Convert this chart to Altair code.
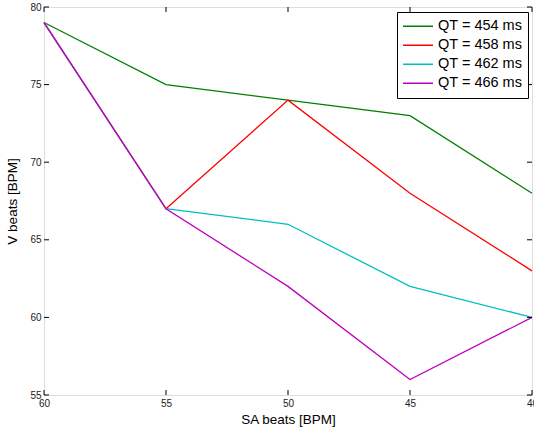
import altair as alt
import pandas as pd

sa_beats = [60, 55, 50, 45, 40]
series_names = ["QT = 454 ms", "QT = 458 ms", "QT = 462 ms", "QT = 466 ms"]
v_454 = [79, 75, 74, 73, 68]
v_458 = [79, 67, 74, 68, 63]
v_462 = [79, 67, 66, 62, 60]
v_466 = [79, 67, 62, 56, 60]
colors = ["#008000", "#ff0000", "#00bfbf", "#bf00bf"]
x_ticks = [60, 55, 50, 45, 40]
y_ticks = [55, 60, 65, 70, 75, 80]

W, H = 488, 388
FONT = "Liberation Sans"

rows = []
for name, vals in zip(series_names, [v_454, v_458, v_462, v_466]):
    for i, (x, y) in enumerate(zip(sa_beats, vals)):
        rows.append({"sa": x, "v": y, "series": name, "order": i})
df = pd.DataFrame(rows)

xscale = alt.Scale(domain=[40, 60], reverse=True, nice=False, zero=False)
yscale = alt.Scale(domain=[55, 80], nice=False, zero=False)

lines = alt.Chart(df).mark_line(strokeWidth=1.3).encode(
    x=alt.X("sa:Q", scale=xscale, title="SA beats [BPM]",
            axis=alt.Axis(values=x_ticks, domain=False, ticks=False, grid=False,
                          labelFontSize=10, labelPadding=3, titleFontSize=13.5,
                          titleFontWeight="normal", titlePadding=4, labelFlush=False,
                          labelFont=FONT, titleFont=FONT, labelColor="#222222")),
    y=alt.Y("v:Q", scale=yscale, title="V beats [BPM]",
            axis=alt.Axis(values=y_ticks, domain=False, ticks=False, grid=False,
                          labelFontSize=10, labelPadding=3, titleFontSize=13.5,
                          titleFontWeight="normal", titlePadding=10, labelFlush=False,
                          labelFont=FONT, titleFont=FONT, labelColor="#222222")),
    color=alt.Color("series:N", scale=alt.Scale(domain=series_names, range=colors),
                    legend=alt.Legend(title=None, orient="none", legendX=353, legendY=5,
                                      symbolType="stroke", symbolSize=900,
                                      symbolStrokeWidth=1.5, rowPadding=0, clipHeight=18.5,
                                      labelFontSize=14.5, labelFont=FONT, labelColor="black",
                                      strokeColor="black", fillColor="white",
                                      padding=5, labelOffset=4)),
    order="order:Q",
)

xt = pd.DataFrame({"t": x_ticks})
yt = pd.DataFrame({"t": y_ticks})

xtick_bottom = alt.Chart(xt).mark_rule(color="black", strokeWidth=1).encode(
    x=alt.X("t:Q", scale=xscale), y=alt.value(H), y2=alt.value(H - 5))
xtick_top = alt.Chart(xt).mark_rule(color="black", strokeWidth=1).encode(
    x=alt.X("t:Q", scale=xscale), y=alt.value(0), y2=alt.value(5))
ytick_left = alt.Chart(yt).mark_rule(color="black", strokeWidth=1).encode(
    y=alt.Y("t:Q", scale=yscale), x=alt.value(0), x2=alt.value(5))
ytick_right = alt.Chart(yt).mark_rule(color="black", strokeWidth=1).encode(
    y=alt.Y("t:Q", scale=yscale), x=alt.value(W), x2=alt.value(W - 5))

chart = alt.layer(lines, xtick_bottom, xtick_top, ytick_left, ytick_right).properties(
    width=W, height=H,
    autosize=alt.AutoSizeParams(type="none"),
    padding={"left": 44, "top": 7, "right": 2, "bottom": 35},
).configure_view(stroke="black", strokeWidth=1.5).configure(background="white")

chart.save("out.html", embed_options={"renderer": "svg", "actions": False})
